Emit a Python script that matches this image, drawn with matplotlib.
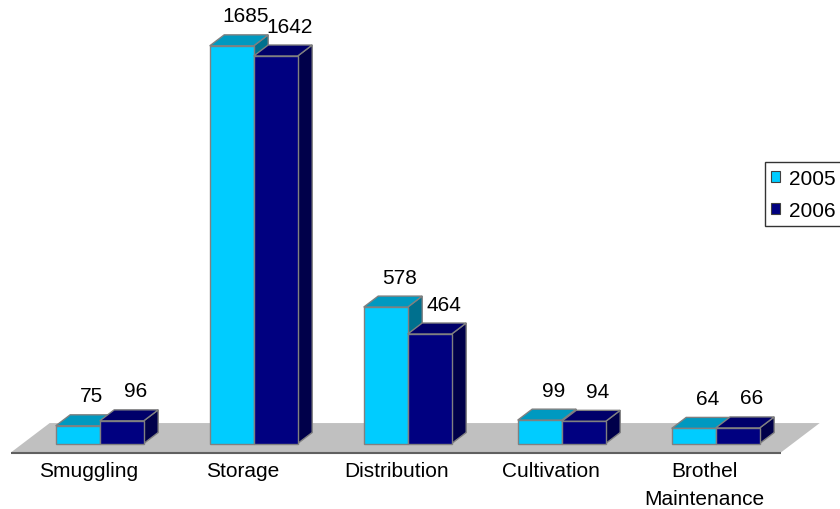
import matplotlib
matplotlib.use('Agg')
import matplotlib.pyplot as plt
from matplotlib.patches import Polygon, Patch

categories = ['Smuggling', 'Storage', 'Distribution', 'Cultivation', 'Brothel\nMaintenance']
series_names = ['2005', '2006']
values_2005 = [75, 1685, 578, 99, 64]
values_2006 = [96, 1642, 464, 94, 66]

colors = {
    '2005': dict(front='#00CCFF', top='#0099C0', side='#00708E'),
    '2006': dict(front='#000080', top='#00006A', side='#00004A'),
}

plt.rcParams['font.family'] = ['Liberation Sans', 'DejaVu Sans']
fig = plt.figure(figsize=(8.4, 5.1), dpi=100)
ax = fig.add_axes([0, 0, 1, 1])
ax.set_xlim(-0.6474, 4.8071)
ax.set_ylim(-277.5, 1883.5)
ax.axis('off')

bar_w = 0.2857
ddx = 0.0942   # depth offset in category units
ddy = 46.6     # depth offset in value units

# floor
f0, f1 = -0.82, 1.86
x0, x1 = -0.5, len(categories) - 0.5
floor = [(x0 + ddx * f0, ddy * f0), (x1 + ddx * f0, ddy * f0),
         (x1 + ddx * f1, ddy * f1), (x0 + ddx * f1, ddy * f1)]
ax.add_patch(Polygon(floor, closed=True, facecolor='#C0C0C0', edgecolor='none', zorder=1))
ax.plot([x0 + ddx * f0, x1 + ddx * f0], [ddy * f0] * 2, color='#606060', lw=1.5, zorder=1.5,
        solid_capstyle='butt')


def bar3d(xl, h, c):
    xr = xl + bar_w
    front = [(xl, 0), (xr, 0), (xr, h), (xl, h)]
    top = [(xl, h), (xr, h), (xr + ddx, h + ddy), (xl + ddx, h + ddy)]
    side = [(xr, 0), (xr + ddx, ddy), (xr + ddx, h + ddy), (xr, h)]
    for poly, fc in [(side, c['side']), (top, c['top']), (front, c['front'])]:
        ax.add_patch(Polygon(poly, closed=True, facecolor=fc, edgecolor='#808080',
                             lw=1, joinstyle='miter', zorder=2))


series_values = [values_2005, values_2006]
for i, cat in enumerate(categories):
    for s, name in enumerate(series_names):
        v = series_values[s][i]
        xl = i - bar_w + s * bar_w
        bar3d(xl, v, colors[name])
        ax.text(xl + bar_w / 2 + 0.09, v + 127, str(v), ha='center', va='center',
                fontsize=15, zorder=5)
    ax.text(i - 0.0714, -74, cat, ha='center', va='top', fontsize=15,
            linespacing=1.6, zorder=5)

handles = [Patch(facecolor=colors[n]['front'], edgecolor='#404040', lw=0.8, label=n)
           for n in series_names]
leg = ax.legend(handles=handles, loc='upper left',
                bbox_to_anchor=(765 / 840, 1 - 163.3 / 510), bbox_transform=fig.transFigure,
                fontsize=15, frameon=True, fancybox=False, edgecolor='black',
                handlelength=0.42, handleheight=0.42, handletextpad=0.45,
                borderpad=0.3, labelspacing=0.65, borderaxespad=0)
leg.get_frame().set_linewidth(1)

fig.savefig('out.png', dpi=100)
